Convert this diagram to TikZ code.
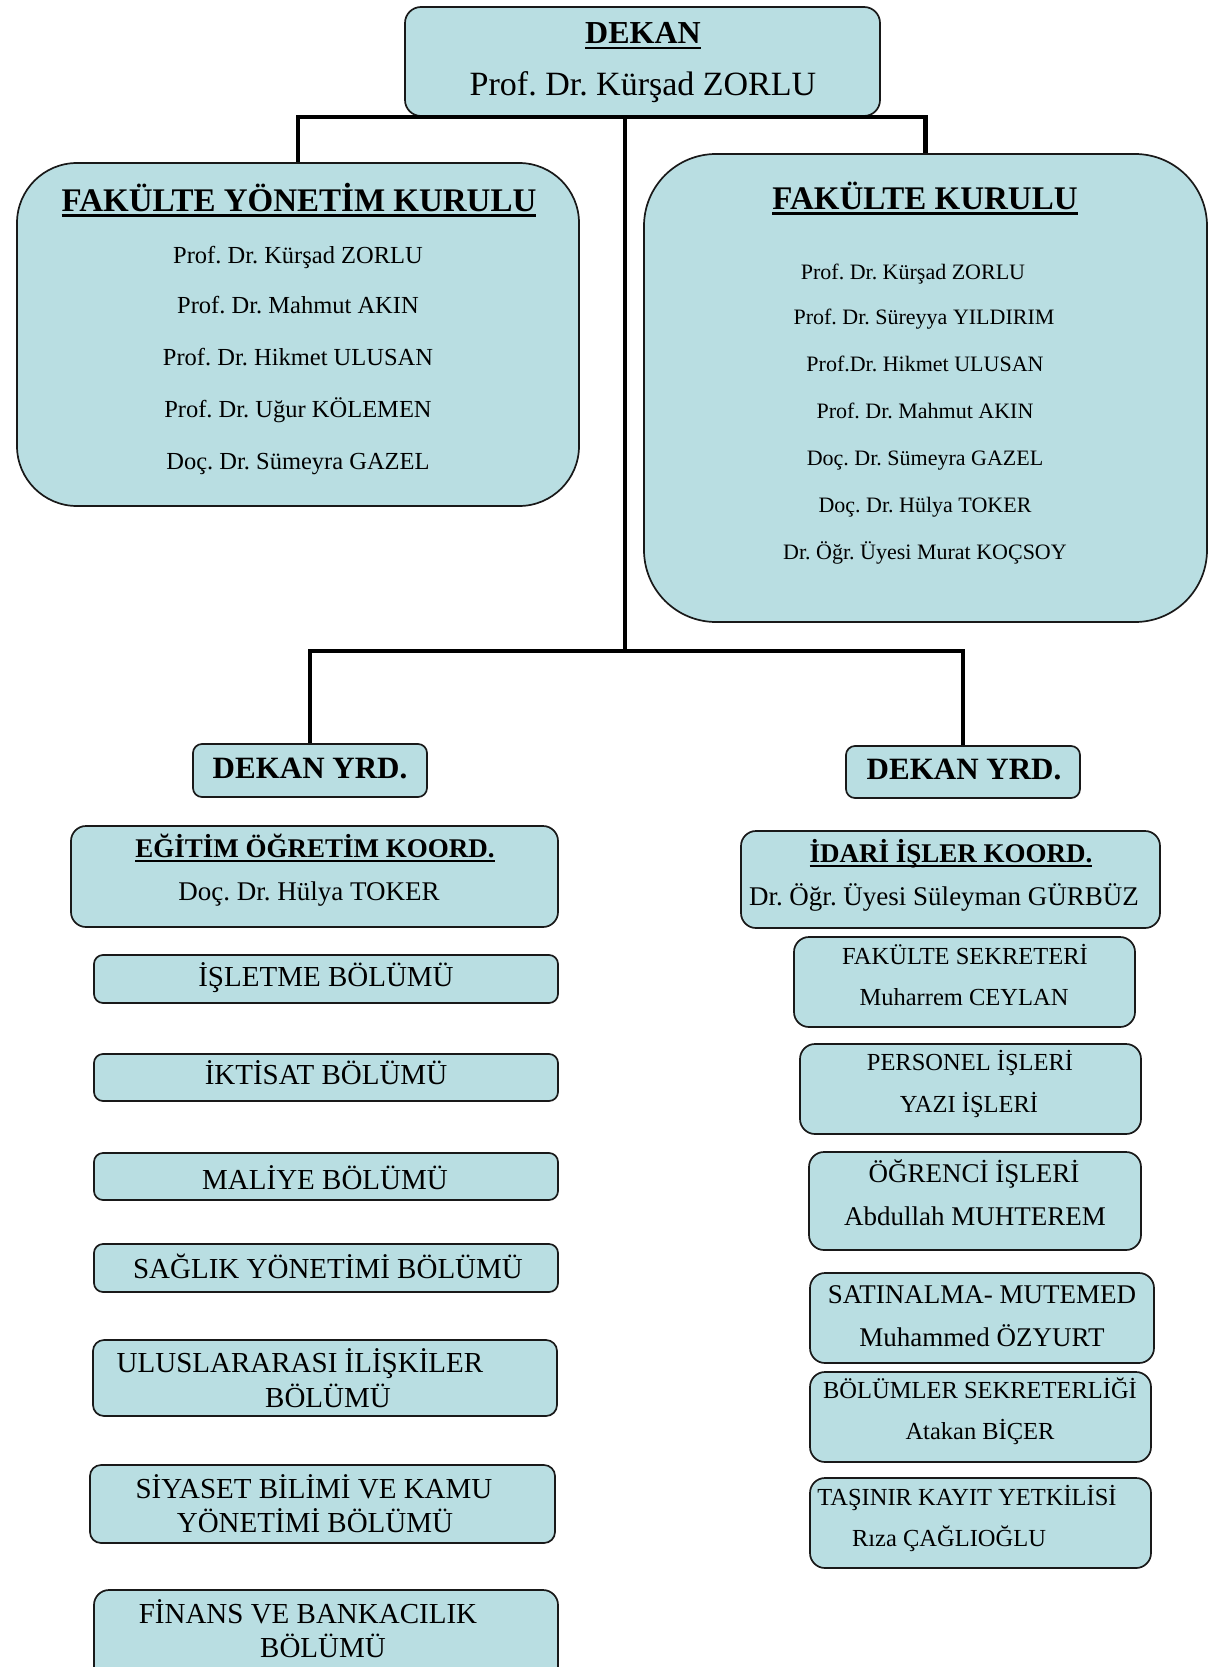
\documentclass[tikz,border=0pt]{standalone}
\usepackage{fontspec}
\setmainfont{Liberation Serif}
\frenchspacing
\definecolor{boxblue}{RGB}{185,222,226}
\newcommand\myul[1]{\setbox0\hbox{#1}\rlap{\rule[-0.17em]{\wd0}{0.075em}}\box0}
\newcommand\fza{\fontsize{22}{26}\selectfont}
\newcommand\fzb{\fontsize{24.5}{29}\selectfont}
\newcommand\fzc{\fontsize{27}{32}\selectfont}
\newcommand\fzd{\fontsize{29}{34}\selectfont}
\newcommand\fze{\fontsize{31}{36}\selectfont\bfseries}
\newcommand\fzf{\fontsize{33}{39}\selectfont}
\newcommand\mkbox[6]{%
  \pgfmathsetmacro\bxcx{(#2+#4)/2}\pgfmathsetmacro\bxcy{(#3+#5)/2}%
  \pgfmathsetmacro\bxw{#4-#2}\pgfmathsetmacro\bxh{#5-#3}%
  \node[box, rounded corners=#6pt, minimum width=\bxw pt, minimum height=\bxh pt] (#1) at (\bxcx,\bxcy) {};}
\tikzset{
  box/.style={draw=black!90, line width=1.7pt, fill=boxblue, inner sep=0pt},
  conn/.style={line width=4.8pt, black},
  txt/.style={inner sep=0pt, anchor=base},
}
\begin{document}
\begin{tikzpicture}[x=1pt,y=-1pt]
\useasboundingbox (0,0) rectangle (1212,1667);
\clip (0,0) rectangle (1212,1667);
% boxes
\mkbox{dekan}{405}{7}{880}{116}{16}
\mkbox{fyk}{17}{163}{579}{506}{60}
\mkbox{fk}{644}{154}{1207}{622}{72}
\mkbox{dyl}{193}{744}{427}{797}{9}
\mkbox{dyr}{846}{746}{1080}{798}{9}
\mkbox{egit}{71}{826}{558}{927}{15}
\mkbox{isl}{94}{955}{558}{1003}{9}
\mkbox{ikt}{94}{1054}{558}{1101}{9}
\mkbox{mal}{94}{1153}{558}{1200}{9}
\mkbox{sag}{94}{1244}{558}{1292}{9}
\mkbox{ulus}{93}{1340}{557}{1416}{11}
\mkbox{siy}{90}{1465}{555}{1543}{11}
\mkbox{fin}{94}{1590}{558}{1710}{15}
\mkbox{idari}{741}{831}{1160}{928}{15}
\mkbox{faksek}{794}{937}{1135}{1027}{15}
\mkbox{pers}{800}{1044}{1141}{1134}{15}
\mkbox{ogr}{809}{1152}{1141}{1250}{15}
\mkbox{sat}{810}{1273}{1154}{1363}{15}
\mkbox{bol}{810}{1372}{1151}{1462}{15}
\mkbox{tas}{810}{1478}{1151}{1568}{15}
% connectors
\coordinate (hub) at (625,117);
\coordinate (hubb) at (625,651);
\draw[conn] (fyk.north) |- (hub) -| (fk.north);
\draw[conn] (hub) -- (hubb);
\draw[conn] (dyl.north) |- (hubb) -| (dyr.north);
% DEKAN
\node[txt, font=\fontsize{32}{38}\selectfont\bfseries] (t-dekan) at (643,44) {\myul{DEKAN}};
\node[txt, font=\fontsize{34}{40}\selectfont] (t-dekan2) at (643,96) {Prof. Dr. Kürşad ZORLU};
% FYK
\node[txt, font=\fzf\bfseries] (t-fyk) at (299,211) {\myul{FAKÜLTE YÖNETİM KURULU}};
\node[txt, font=\fzb] (t-fyk1) at (298,263) {Prof. Dr. Kürşad ZORLU};
\node[txt, font=\fzb] (t-fyk2) at (298,313) {Prof. Dr. Mahmut AKIN};
\node[txt, font=\fzb] (t-fyk3) at (298,365) {Prof. Dr. Hikmet ULUSAN};
\node[txt, font=\fzb] (t-fyk4) at (298,417) {Prof. Dr. Uğur KÖLEMEN};
\node[txt, font=\fzb] (t-fyk5) at (298,469) {Doç. Dr. Sümeyra GAZEL};
% FK
\node[txt, font=\fzf\bfseries] (t-fk) at (925,209) {\myul{FAKÜLTE KURULU}};
\node[txt, font=\fza] (t-fk1) at (913,279) {Prof. Dr. Kürşad ZORLU};
\node[txt, font=\fza] (t-fk2) at (924,324) {Prof. Dr. Süreyya YILDIRIM};
\node[txt, font=\fza] (t-fk3) at (925,371) {Prof.Dr. Hikmet ULUSAN};
\node[txt, font=\fza] (t-fk4) at (925,418) {Prof. Dr. Mahmut AKIN};
\node[txt, font=\fza] (t-fk5) at (925,465) {Doç. Dr. Sümeyra GAZEL};
\node[txt, font=\fza] (t-fk6) at (925,512) {Doç. Dr. Hülya TOKER};
\node[txt, font=\fza] (t-fk7) at (925,559) {Dr. Öğr. Üyesi Murat KOÇSOY};
% DEKAN YRD
\node[txt, font=\fze] (t-dyl) at (310,778) {DEKAN YRD.};
\node[txt, font=\fze] (t-dyr) at (964,779) {DEKAN YRD.};
% left column
\node[txt, font=\fzc\bfseries] (t-egit) at (315,857) {\myul{EĞİTİM ÖĞRETİM KOORD.}};
\node[txt, font=\fzc] (t-egit2) at (309,900) {Doç. Dr. Hülya TOKER};
\node[txt, font=\fzd] (t-isl) at (326,986) {İŞLETME BÖLÜMÜ};
\node[txt, font=\fzd] (t-ikt) at (326,1084) {İKTİSAT BÖLÜMÜ};
\node[txt, font=\fzd] (t-mal) at (325,1189) {MALİYE BÖLÜMÜ};
\node[txt, font=\fzd] (t-sag) at (328,1278) {SAĞLIK YÖNETİMİ BÖLÜMÜ};
\node[txt, font=\fzd] (t-ulus1) at (300,1372) {ULUSLARARASI İLİŞKİLER};
\node[txt, font=\fzd] (t-ulus2) at (328,1407) {BÖLÜMÜ};
\node[txt, font=\fzd] (t-siy1) at (314,1498) {SİYASET BİLİMİ VE KAMU};
\node[txt, font=\fzd] (t-siy2) at (315,1532) {YÖNETİMİ BÖLÜMÜ};
\node[txt, font=\fzd] (t-fin1) at (308,1623) {FİNANS VE BANKACILIK};
\node[txt, font=\fzd] (t-fin2) at (323,1657) {BÖLÜMÜ};
% right column
\node[txt, font=\fzc\bfseries] (t-idari) at (951,862) {\myul{İDARİ İŞLER KOORD.}};
\node[txt, font=\fzc] (t-idari2) at (944,905) {Dr. Öğr. Üyesi Süleyman GÜRBÜZ};
\node[txt, font=\fzb] (t-faksek1) at (965,964) {FAKÜLTE SEKRETERİ};
\node[txt, font=\fzb] (t-faksek2) at (964,1005) {Muharrem CEYLAN};
\node[txt, font=\fzb] (t-pers1) at (970,1070) {PERSONEL İŞLERİ};
\node[txt, font=\fzb] (t-pers2) at (969,1112) {YAZI İŞLERİ};
\node[txt, font=\fzc] (t-ogr1) at (974,1182) {ÖĞRENCİ İŞLERİ};
\node[txt, font=\fzc] (t-ogr2) at (975,1225) {Abdullah MUHTEREM};
\node[txt, font=\fzc] (t-sat1) at (982,1303) {SATINALMA- MUTEMED};
\node[txt, font=\fzc] (t-sat2) at (982,1346) {Muhammed ÖZYURT};
\node[txt, font=\fzb] (t-bol1) at (980,1398) {BÖLÜMLER SEKRETERLİĞİ};
\node[txt, font=\fzb] (t-bol2) at (980,1439) {Atakan BİÇER};
\node[txt, font=\fzb] (t-tas1) at (967,1505) {TAŞINIR KAYIT YETKİLİSİ};
\node[txt, font=\fzb] (t-tas2) at (949,1546) {Rıza ÇAĞLIOĞLU};
\end{tikzpicture}
\end{document}
